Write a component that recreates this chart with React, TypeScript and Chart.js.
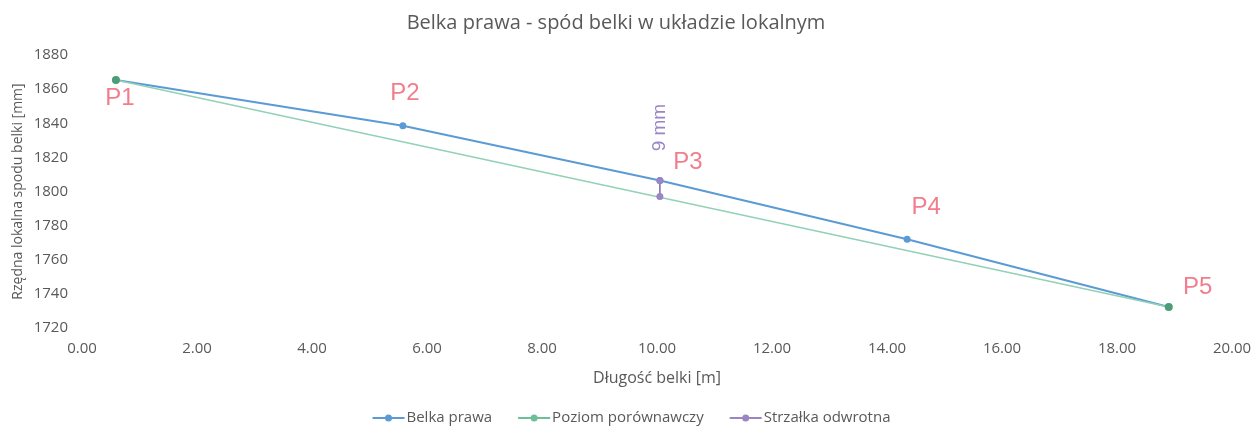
import React, { useEffect, useRef } from "react";
import { Chart, registerables } from "chart.js";

Chart.register(...registerables);

const beamX = [0.59, 5.58, 10.05, 14.35, 18.9];
const beamY = [1865.4, 1838.5, 1806.4, 1772.0, 1732.3];
const refX = [0.59, 18.9];
const refY = [1865.4, 1732.3];
const camberX = [10.05, 10.05];
const camberY = [1806.4, 1797.1];
const pointLabels = ["P1", "P2", "P3", "P4", "P5"];
const camberLabel = "9 mm";
const seriesNames = ["Belka prawa", "Poziom porównawczy", "Strzałka odwrotna"];
const xTicks = [0, 2, 4, 6, 8, 10, 12, 14, 16, 18, 20];
const yTicks = [1720, 1740, 1760, 1780, 1800, 1820, 1840, 1860, 1880];

const labelOffsets = [
  [4, 18],
  [2, -32],
  [28, -18],
  [19, -32],
  [29, -20],
];

const FONT = "'Open Sans', Lato, sans-serif";
const BLUE = "#5b9bd5";
const GREEN = "#6dbf98";
const GREEN_DARK = "#4c9d78";
const PURPLE = "#9a86c4";
const PINK = "#f27d8c";
const TEXT = "#595959";
const legendColors = [BLUE, GREEN, PURPLE];

const annotationPlugin = {
  id: "pointLabels",
  afterDatasetsDraw(chart: any) {
    const { ctx, scales } = chart;
    const xs = scales.x;
    const ys = scales.y;
    ctx.save();
    ctx.font = "24px 'Liberation Sans', Arial, sans-serif";
    ctx.fillStyle = PINK;
    ctx.textAlign = "center";
    ctx.textBaseline = "middle";
    pointLabels.forEach((lbl, i) => {
      const px = xs.getPixelForValue(beamX[i]) + labelOffsets[i][0];
      const py = ys.getPixelForValue(beamY[i]) + labelOffsets[i][1];
      ctx.fillText(lbl, px, py);
    });
    const cx = xs.getPixelForValue(camberX[0]);
    const cy = ys.getPixelForValue(camberY[0]) - 53;
    ctx.translate(cx, cy);
    ctx.rotate(-Math.PI / 2);
    ctx.font = "19px 'Liberation Sans', Arial, sans-serif";
    ctx.fillStyle = PURPLE;
    ctx.fillText(camberLabel, 0, 0);
    ctx.restore();
  },
};

const legendPlugin = {
  id: "customLegend",
  afterDraw(chart: any) {
    const { ctx, width, height } = chart;
    ctx.save();
    ctx.font = `15px ${FONT}`;
    ctx.textBaseline = "middle";
    ctx.textAlign = "left";
    const iconW = 32;
    const iconGap = 2;
    const itemGap = 26;
    const widths = seriesNames.map((n) => iconW + iconGap + ctx.measureText(n).width);
    const total = widths.reduce((a, b) => a + b, 0) + itemGap * (seriesNames.length - 1);
    let x = width / 2 + 4 - total / 2;
    const y = height - 9;
    seriesNames.forEach((name, i) => {
      const c = legendColors[i];
      ctx.strokeStyle = c;
      ctx.lineWidth = 2;
      ctx.beginPath();
      ctx.moveTo(x, y);
      ctx.lineTo(x + iconW, y);
      ctx.stroke();
      ctx.fillStyle = c;
      ctx.beginPath();
      ctx.arc(x + iconW / 2, y, 3.5, 0, Math.PI * 2);
      ctx.fill();
      ctx.fillStyle = TEXT;
      ctx.fillText(name, x + iconW + iconGap, y);
      x += widths[i] + itemGap;
    });
    ctx.restore();
  },
};

export default function App() {
  const ref = useRef<HTMLCanvasElement | null>(null);
  useEffect(() => {
    document.body.style.margin = "0";
    const chart = new Chart(ref.current!, {
      type: "scatter",
      data: {
        datasets: [
          {
            label: seriesNames[0],
            data: beamX.map((x, i) => ({ x, y: beamY[i] })),
            showLine: true,
            borderColor: BLUE,
            backgroundColor: BLUE,
            borderWidth: 2,
            pointRadius: 3.5,
            pointBorderWidth: 0,
            order: 2,
          },
          {
            label: seriesNames[1],
            data: refX.map((x, i) => ({ x, y: refY[i] })),
            showLine: true,
            borderColor: "#93d1b6",
            backgroundColor: GREEN_DARK,
            borderWidth: 1.5,
            pointRadius: 4,
            pointBorderWidth: 0,
            order: 1,
          },
          {
            label: seriesNames[2],
            data: camberX.map((x, i) => ({ x, y: camberY[i] })),
            showLine: true,
            borderColor: "#7d6aa8",
            backgroundColor: PURPLE,
            borderWidth: 1.5,
            pointRadius: 3.5,
            pointBorderWidth: 0,
            order: 0,
          },
        ],
      },
      options: {
        animation: false,
        responsive: true,
        maintainAspectRatio: false,
        layout: { padding: { left: 0, right: 23, top: 0, bottom: 37 } },
        plugins: {
          title: {
            display: true,
            text: "Belka prawa - spód belki w układzie lokalnym",
            color: TEXT,
            font: { family: FONT, size: 20, weight: "normal" },
            padding: { top: 11, bottom: 20 },
          },
          legend: { display: false },
          tooltip: { enabled: false },
        },
        scales: {
          x: {
            type: "linear",
            min: 0,
            max: 20,
            grid: { display: false, drawTicks: false },
            border: { display: false },
            afterBuildTicks: (s: any) => {
              s.ticks = xTicks.map((v) => ({ value: v }));
            },
            ticks: {
              color: TEXT,
              padding: 12,
              font: { family: FONT, size: 15 },
              maxRotation: 0,
              callback: (v: any) => Number(v).toFixed(2),
            },
            title: {
              display: true,
              text: "Długość belki [m]",
              color: TEXT,
              font: { family: FONT, size: 16 },
              padding: { top: 0, bottom: 2 },
            },
            afterFit: (s: any) => {
              s.height = 62;
              s.paddingLeft = 0;
              s.paddingRight = 0;
            },
          },
          y: {
            type: "linear",
            min: 1720,
            max: 1880,
            grid: { display: false, drawTicks: false },
            border: { display: false },
            afterBuildTicks: (s: any) => {
              s.ticks = yTicks.map((v) => ({ value: v }));
            },
            ticks: {
              color: TEXT,
              padding: 14,
              font: { family: FONT, size: 15 },
              callback: (v: any) => String(v),
            },
            title: {
              display: true,
              text: "Rzędna lokalna spodu belki [mm]",
              color: TEXT,
              font: { family: FONT, size: 14 },
              padding: { top: 10, bottom: 0 },
            },
            afterFit: (s: any) => {
              s.width = 82;
              s.paddingTop = 0;
              s.paddingBottom = 0;
            },
          },
        },
      },
      plugins: [annotationPlugin, legendPlugin],
    });
    return () => chart.destroy();
  }, []);
  return (
    <div style={{ position: "fixed", left: 0, top: 0, width: 1255, height: 427, background: "#fff" }}>
      <canvas ref={ref} />
    </div>
  );
}
